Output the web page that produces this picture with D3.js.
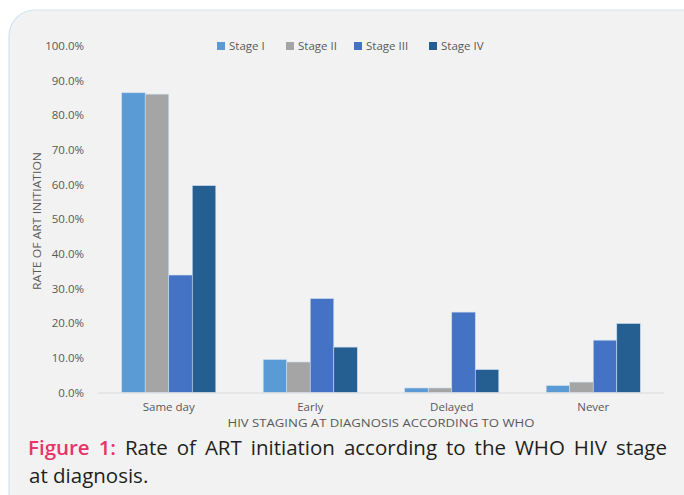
<!DOCTYPE html>
<html>
<head>
<meta charset="utf-8">
<script src="https://cdn.jsdelivr.net/npm/d3@7"></script>
<style>
  body { margin: 0; background: #fff; }
  svg { display: block; }
</style>
</head>
<body>
<div id="chart"></div>
<script>
// Data
const categories = ["Same day", "Early", "Delayed", "Never"];
const stages = ["Stage I", "Stage II", "Stage III", "Stage IV"];
const stageI = [86.5, 9.5, 1.3, 2.0];
const stageII = [86.1, 8.8, 1.3, 3.0];
const stageIII = [33.9, 27.1, 23.2, 15.1];
const stageIV = [59.7, 13.1, 6.6, 19.9];
const yTicks = [0, 10, 20, 30, 40, 50, 60, 70, 80, 90, 100];
const colors = ["#5b9bd5", "#a5a5a5", "#4472c4", "#255e91"];

const series = [stageI, stageII, stageIII, stageIV];
const rows = categories.map((c, i) => ({cat: c, values: series.map(s => s[i])}));

const W = 684, H = 495;
const svg = d3.select("#chart").append("svg")
    .attr("width", W)
    .attr("height", H);

// card background
svg.append("rect")
    .attr("x", 9).attr("y", 10)
    .attr("width", 700).attr("height", 510)
    .attr("rx", 26).attr("ry", 26)
    .attr("fill", "#f2f2f2")
    .attr("stroke", "#cfe3f0")
    .attr("stroke-width", 1.2);

const font = "'Open Sans', sans-serif";
const textCol = "#595959";

// scales
const x = d3.scaleBand()
    .domain(categories)
    .range([98, 664])
    .paddingInner(0.335)
    .paddingOuter(0.1675);

const xs = d3.scaleBand()
    .domain(stages)
    .range([0, x.bandwidth()]);

const y = d3.scaleLinear()
    .domain([0, 100])
    .range([392.5, 46]);

// Y axis labels
const yAxis = svg.append("g")
    .attr("transform", "translate(90,0)")
    .call(d3.axisLeft(y).tickValues(yTicks).tickSize(0).tickPadding(6)
        .tickFormat(d => d.toFixed(1) + "%"));
yAxis.select(".domain").remove();
yAxis.selectAll("text")
    .attr("fill", textCol)
    .style("font-family", font)
    .style("font-size", "11.5px");

// bars
const groups = svg.selectAll("g.grp")
    .data(rows)
    .join("g")
    .attr("class", "grp")
    .attr("transform", d => "translate(" + x(d.cat) + ",0)");

groups.selectAll("rect")
    .data(d => d.values.map((v, i) => ({stage: stages[i], v: v, i: i})))
    .join("rect")
    .attr("x", d => xs(d.stage))
    .attr("y", d => y(d.v))
    .attr("width", xs.bandwidth())
    .attr("height", d => y(0) - y(d.v))
    .attr("fill", d => colors[d.i])
    .attr("stroke", "#c9dcee")
    .attr("stroke-width", 0.6);

// baseline
svg.append("line")
    .attr("x1", 98).attr("x2", 664)
    .attr("y1", y(0) + 0.5).attr("y2", y(0) + 0.5)
    .attr("stroke", "#d9d9d9")
    .attr("stroke-width", 1.2);

// X axis labels
const xAxis = svg.append("g")
    .attr("transform", "translate(0," + y(0) + ")")
    .call(d3.axisBottom(x).tickSize(0).tickPadding(10));
xAxis.select(".domain").remove();
xAxis.selectAll("text")
    .attr("fill", textCol)
    .style("font-family", font)
    .style("font-size", "11.5px");

// axis titles
svg.append("text")
    .attr("x", 381).attr("y", 427)
    .attr("text-anchor", "middle")
    .attr("fill", textCol)
    .style("font-family", font)
    .style("font-size", "10px")
    .attr("textLength", 307)
    .attr("lengthAdjust", "spacingAndGlyphs")
    .text("HIV STAGING AT DIAGNOSIS ACCORDING TO WHO");

svg.append("text")
    .attr("transform", "translate(41,221) rotate(-90)")
    .attr("text-anchor", "middle")
    .attr("fill", textCol)
    .style("font-family", font)
    .style("font-size", "10.5px")
    .attr("textLength", 138)
    .attr("lengthAdjust", "spacingAndGlyphs")
    .text("RATE OF ART INITIATION");

// legend
const legX = [217, 286, 354, 429];
const leg = svg.selectAll("g.leg")
    .data(stages)
    .join("g")
    .attr("class", "leg")
    .attr("transform", (d, i) => "translate(" + legX[i] + ",42)");
leg.append("rect")
    .attr("width", 8).attr("height", 8)
    .attr("fill", (d, i) => colors[i]);
leg.append("text")
    .attr("x", 12).attr("y", 8)
    .attr("fill", textCol)
    .style("font-family", font)
    .style("font-size", "11.5px")
    .text(d => d);

// caption, justified to the card width by widening the word gaps
const capSize = 20.5;
const cap = svg.append("text")
    .attr("x", 28).attr("y", 455)
    .style("font-family", font)
    .style("font-size", capSize + "px")
    .attr("fill", "#231f20");
cap.append("tspan")
    .attr("fill", "#e8336b")
    .style("font-weight", "600")
    .text("Figure 1:");
cap.append("tspan")
    .text(" Rate of ART initiation according to the WHO HIV stage");

const target = 639;
const natural = cap.node().getComputedTextLength();
if (natural < target) {
    cap.style("word-spacing", ((target - natural) / 11) + "px");
} else {
    cap.attr("textLength", target).attr("lengthAdjust", "spacingAndGlyphs");
}

svg.append("text")
    .attr("x", 29).attr("y", 483)
    .style("font-family", font)
    .style("font-size", capSize + "px")
    .attr("fill", "#231f20")
    .text("at diagnosis.");
</script>
</body>
</html>
